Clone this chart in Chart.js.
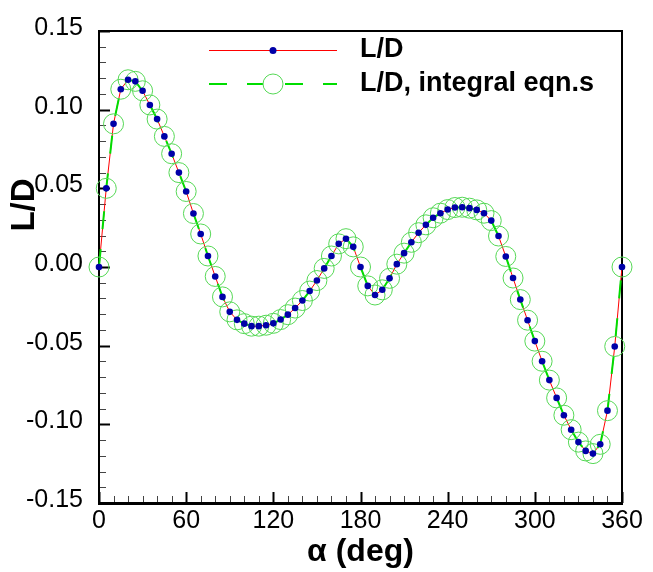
<!DOCTYPE html>
<html>
<head>
<meta charset="utf-8">
<script src="https://cdn.jsdelivr.net/npm/chart.js@4.4.1/dist/chart.umd.min.js"></script>
<style>
html,body{margin:0;padding:0;background:#fff;}
#wrap{width:653px;height:572px;position:relative;}
</style>
</head>
<body>
<div id="wrap"><canvas id="c" width="653" height="572"></canvas></div>
<script>
// ---- data ----
const alphaDeg = [0,5,10,15,20,25,30,35,40,45,50,55,60,65,70,75,80,85,90,95,100,105,110,115,120,125,130,135,140,145,150,155,160,165,170,175,180,185,190,195,200,205,210,215,220,225,230,235,240,245,250,255,260,265,270,275,280,285,290,295,300,305,310,315,320,325,330,335,340,345,350,355,360];
const ldValues = [0.000,0.050,0.091,0.113,0.119,0.118,0.112,0.103,0.094,0.083,0.072,0.060,0.048,0.034,0.021,0.007,-0.006,-0.019,-0.0285,-0.0336,-0.036,-0.0376,-0.0376,-0.037,-0.0358,-0.0334,-0.0303,-0.0261,-0.0213,-0.0153,-0.0086,-0.0009,0.007,0.0147,0.018,0.0128,0.000,-0.012,-0.0178,-0.0145,-0.0072,0.0018,0.0088,0.0157,0.0218,0.0268,0.0313,0.0342,0.0365,0.0378,0.038,0.0374,0.0363,0.0342,0.0295,0.0197,0.0067,-0.007,-0.0207,-0.0338,-0.0471,-0.0599,-0.0719,-0.0832,-0.0942,-0.1034,-0.1113,-0.1169,-0.1186,-0.1127,-0.0913,-0.0505,0.000];
const ldIntegral = [0.000,0.050,0.091,0.113,0.119,0.118,0.112,0.103,0.094,0.083,0.072,0.060,0.048,0.034,0.021,0.007,-0.006,-0.019,-0.0285,-0.0336,-0.036,-0.0376,-0.0376,-0.037,-0.0358,-0.0334,-0.0303,-0.0261,-0.0213,-0.0153,-0.0086,-0.0009,0.007,0.0147,0.018,0.0128,0.000,-0.012,-0.0178,-0.0145,-0.0072,0.0018,0.0088,0.0157,0.0218,0.0268,0.0313,0.0342,0.0365,0.0378,0.038,0.0374,0.0363,0.0342,0.0295,0.0197,0.0067,-0.007,-0.0207,-0.0338,-0.0471,-0.0599,-0.0719,-0.0832,-0.0942,-0.1034,-0.1113,-0.1169,-0.1186,-0.1127,-0.0913,-0.0505,0.000];
const xTicks = [0,60,120,180,240,300,360];
const yTicks = [-0.15,-0.10,-0.05,0.00,0.05,0.10,0.15];
const seriesNames = ['L/D','L/D, integral eqn.s'];
const xTitle = 'α (deg)';
const yTitle = 'L/D';

const toPts = vals => alphaDeg.map((a,i) => ({x:a, y:vals[i]}));

const FONT = 'Arial, "Liberation Sans", sans-serif';
const RED = '#ff0000', GREEN = '#00dd00', CIRCLE = '#55d855', BLUE = '#0000a8';

const decorPlugin = {
  id: 'decor',
  beforeDatasetsDraw(chart) {
    const {ctx, chartArea: a, scales: {x, y}} = chart;
    ctx.save();
    ctx.strokeStyle = '#000';
    // ticks (inside)
    for (let v = 0; v <= 360; v += 10) {
      const major = v % 60 === 0;
      const px = Math.round(x.getPixelForValue(v)) + 0.5;
      ctx.lineWidth = major ? 2 : 1;
      ctx.strokeStyle = major ? '#000' : '#444';
      ctx.beginPath(); ctx.moveTo(px, a.bottom); ctx.lineTo(px, a.bottom - (major ? 11 : 7)); ctx.stroke();
    }
    for (let i = -15; i <= 15; i++) {
      const major = i % 5 === 0;
      const py = Math.round(y.getPixelForValue(i / 100)) + 0.5;
      ctx.lineWidth = major ? 2 : 1;
      ctx.strokeStyle = major ? '#000' : '#444';
      ctx.beginPath(); ctx.moveTo(a.left, py); ctx.lineTo(a.left + (major ? 11 : 7), py); ctx.stroke();
    }
    // frame
    ctx.strokeStyle = '#000';
    ctx.lineWidth = 2;
    ctx.strokeRect(a.left, a.top, a.right - a.left, a.bottom - a.top);
    ctx.lineWidth = 3;
    ctx.beginPath(); ctx.moveTo(a.left - 1, a.bottom + 0.5); ctx.lineTo(a.right + 1, a.bottom + 0.5); ctx.stroke();
    ctx.restore();
  },
  afterDraw(chart) {
    const {ctx} = chart;
    ctx.save();
    // y title
    ctx.translate(25, 205);
    ctx.rotate(-Math.PI / 2);
    ctx.fillStyle = '#000';
    ctx.font = 'bold 33px ' + FONT;
    ctx.textAlign = 'center';
    ctx.textBaseline = 'middle';
    ctx.fillText(yTitle, 0, 0);
    ctx.restore();

    // legend
    ctx.save();
    const x0 = 209, x1 = 337, xm = 273, y1 = 50, y2 = 84;
    ctx.strokeStyle = RED; ctx.lineWidth = 1;
    ctx.beginPath(); ctx.moveTo(x0, y1 + 0.5); ctx.lineTo(x1, y1 + 0.5); ctx.stroke();
    ctx.fillStyle = BLUE;
    ctx.beginPath(); ctx.arc(xm, y1 + 0.5, 3.5, 0, Math.PI * 2); ctx.fill();

    ctx.strokeStyle = GREEN; ctx.lineWidth = 2;
    ctx.setLineDash([18, 20]);
    ctx.beginPath(); ctx.moveTo(x0, y2); ctx.lineTo(x1, y2); ctx.stroke();
    ctx.setLineDash([]);
    ctx.fillStyle = '#fff';
    ctx.beginPath(); ctx.arc(xm, y2, 10, 0, Math.PI * 2); ctx.fill();
    ctx.strokeStyle = CIRCLE; ctx.lineWidth = 1;
    ctx.stroke();

    ctx.fillStyle = '#000';
    ctx.font = 'bold 27px ' + FONT;
    ctx.textAlign = 'left';
    ctx.textBaseline = 'middle';
    ctx.fillText(seriesNames[0], 360, y1);
    ctx.fillText(seriesNames[1], 360, y2);
    ctx.restore();
  }
};

new Chart(document.getElementById('c'), {
  type: 'line',
  data: {
    datasets: [
      {
        label: seriesNames[0],
        data: toPts(ldValues),
        borderColor: RED,
        borderWidth: 1,
        pointRadius: 0,
        fill: false,
        tension: 0,
        order: 3
      },
      {
        label: seriesNames[1],
        data: toPts(ldIntegral),
        borderColor: GREEN,
        borderWidth: 2,
        borderDash: [18, 20],
        pointRadius: 10,
        pointBorderColor: CIRCLE,
        pointBackgroundColor: 'rgba(0,0,0,0)',
        pointBorderWidth: 1,
        fill: false,
        tension: 0,
        clip: false,
        order: 2
      },
      {
        label: seriesNames[0] + ' points',
        data: toPts(ldValues),
        showLine: false,
        pointRadius: 3.3,
        pointBackgroundColor: BLUE,
        pointBorderWidth: 0,
        clip: false,
        order: 1
      }
    ]
  },
  options: {
    responsive: false,
    animation: false,
    devicePixelRatio: 1,
    layout: { padding: { top: 23, right: 31, left: 0, bottom: 0 } },
    plugins: { legend: { display: false }, tooltip: { enabled: false } },
    scales: {
      x: {
        type: 'linear',
        min: 0, max: 360,
        afterBuildTicks: s => { s.ticks = xTicks.map(v => ({value: v})); },
        afterFit: s => { s.height = 69; },
        grid: { display: false, drawTicks: false },
        border: { display: false },
        ticks: { color: '#000', font: { family: FONT, size: 25 }, padding: 3, maxRotation: 0, autoSkip: false },
        title: { display: true, text: xTitle, color: '#000', font: { family: FONT, size: 32, weight: 'bold' }, padding: { top: 0, bottom: 1 } }
      },
      y: {
        type: 'linear',
        min: -0.15, max: 0.15,
        afterBuildTicks: s => { s.ticks = yTicks.map(v => ({value: v})); },
        afterFit: s => { s.width = 99; },
        grid: { display: false, drawTicks: false },
        border: { display: false },
        ticks: { color: '#000', font: { family: FONT, size: 25 }, padding: 16, labelOffset: -3, autoSkip: false,
                 callback: v => Number(v).toFixed(2) }
      }
    }
  },
  plugins: [decorPlugin]
});
</script>
</body>
</html>
